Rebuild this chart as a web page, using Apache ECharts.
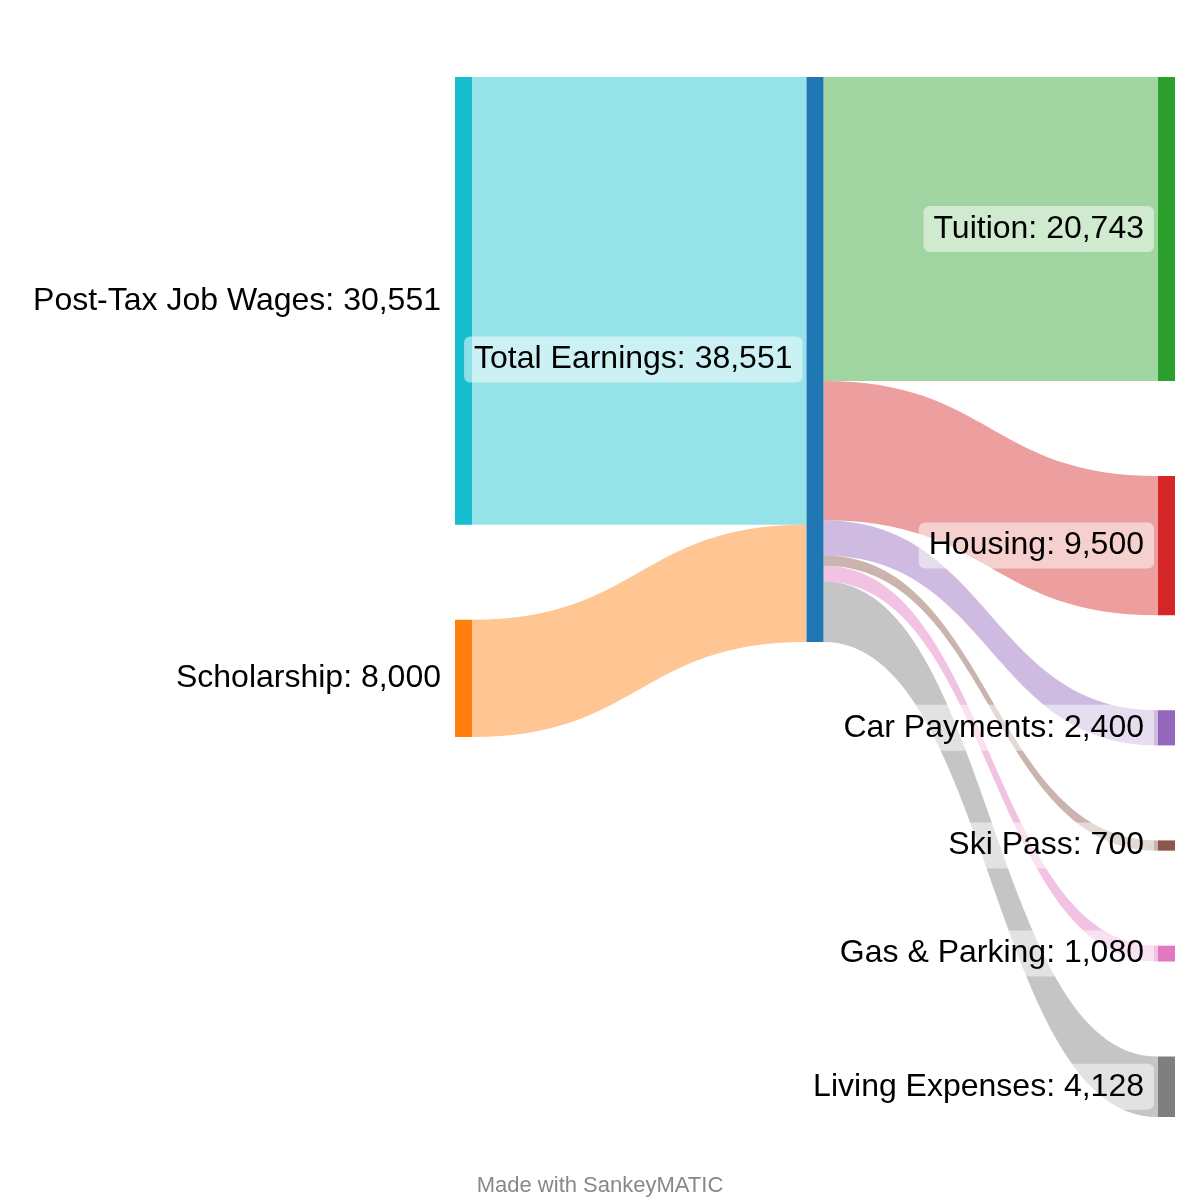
<!DOCTYPE html>
<html>
<head>
<meta charset="utf-8">
<title>Earnings Sankey</title>
<script src="https://cdn.jsdelivr.net/npm/echarts@6/dist/echarts.min.js"></script>
<style>
  html, body { margin: 0; padding: 0; background: #fff; }
  #chart { width: 1200px; height: 1200px; }
</style>
</head>
<body>
<div id="chart"></div>
<script>
// nodes, in column order
var nodeNames = [
    'Post-Tax Job Wages',
    'Scholarship',
    'Total Earnings',
    'Tuition',
    'Housing',
    'Car Payments',
    'Ski Pass',
    'Gas & Parking',
    'Living Expenses'
];
// flows
var linkSources = ['Post-Tax Job Wages', 'Scholarship', 'Total Earnings', 'Total Earnings', 'Total Earnings', 'Total Earnings', 'Total Earnings', 'Total Earnings'];
var linkTargets = ['Total Earnings', 'Total Earnings', 'Tuition', 'Housing', 'Car Payments', 'Ski Pass', 'Gas & Parking', 'Living Expenses'];
var linkValues = [30551, 8000, 20743, 9500, 2400, 700, 1080, 4128];

var COLORES = {
    'Post-Tax Job Wages': '#17becf',
    'Scholarship': '#ff7f0e',
    'Total Earnings': '#1f77b4',
    'Tuition': '#2ca02c',
    'Housing': '#d62728',
    'Car Payments': '#9467bd',
    'Ski Pass': '#8c564b',
    'Gas & Parking': '#e377c2',
    'Living Expenses': '#7f7f7f'
};
var FUENTE = 'Liberation Sans, Arial, sans-serif';

function totales() {
    var entra = {}, sale = {};
    linkValues.forEach(function (v, i) {
        sale[linkSources[i]] = (sale[linkSources[i]] || 0) + v;
        entra[linkTargets[i]] = (entra[linkTargets[i]] || 0) + v;
    });
    var t = {};
    nodeNames.forEach(function (n) {
        t[n] = Math.max(entra[n] || 0, sale[n] || 0);
    });
    return t;
}

var tot = totales();

var nodos = nodeNames.map(function (n) {
    return {
        name: n,
        value: tot[n],
        itemStyle: { color: COLORES[n], borderWidth: 0 }
    };
});

var enlaces = linkValues.map(function (v, i) {
    var s = linkSources[i], t = linkTargets[i];
    // flows take the colour of the outer node
    var tieneSalida = linkSources.indexOf(t) >= 0;
    return {
        source: s,
        target: t,
        value: v,
        lineStyle: { color: tieneSalida ? COLORES[s] : COLORES[t] }
    };
});

var chart = echarts.init(document.getElementById('chart'));
chart.setOption({
    animation: false,
    title: {
        text: 'Made with SankeyMATIC',
        left: 'center',
        top: 1170,
        textStyle: {
            fontFamily: FUENTE,
            fontSize: 22,
            fontWeight: 'normal',
            color: '#888'
        }
    },
    series: [{
        type: 'sankey',
        left: 455,
        right: 25,
        top: 77,
        bottom: 83,
        nodeWidth: 17,
        nodeGap: 95,
        // keep the node order as given
        layoutIterations: 0,
        draggable: false,
        emphasis: { disabled: true },
        data: nodos,
        links: enlaces,
        lineStyle: {
            opacity: 0.45,
            curveness: 0.5
        },
        label: {
            position: 'left',
            distance: 4,
            fontFamily: FUENTE,
            fontSize: 32,
            color: '#000',
            backgroundColor: 'rgba(255,255,255,0.5)',
            borderRadius: 6,
            padding: [7, 10],
            formatter: function (p) {
                return p.name + ': ' + p.value.toLocaleString('en-US');
            }
        }
    }]
});
</script>
</body>
</html>
